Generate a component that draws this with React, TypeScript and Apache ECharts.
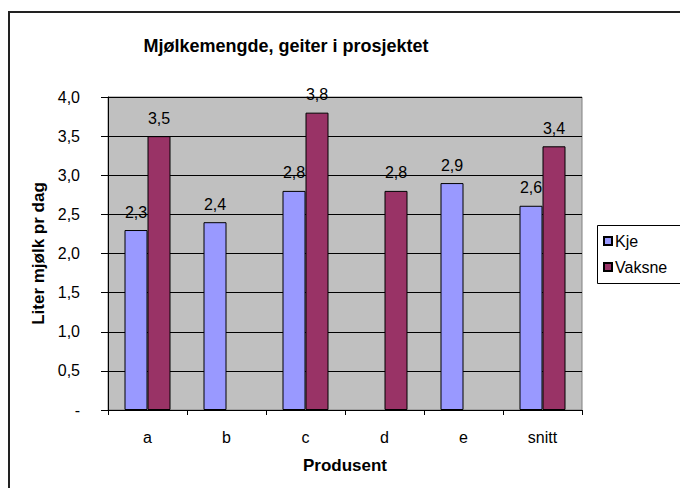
import React, { useEffect, useRef } from "react";
import * as echarts from "echarts";

const categories = ["a", "b", "c", "d", "e", "snitt"];
const kje: (number | null)[] = [2.3, 2.4, 2.8, null, 2.9, 2.61];
const vaksne: (number | null)[] = [3.5, null, 3.8, 2.8, null, 3.37];
const yTicks = { min: 0, max: 4, interval: 0.5 };

const FONT = "Liberation Sans, Arial, sans-serif";
const fmt = (v: number) => (v === 0 ? "-" : v.toFixed(1).replace(".", ","));

export default function App() {
  const ref = useRef<HTMLDivElement>(null);
  useEffect(() => {
    if (!ref.current) return;
    const chart = echarts.init(ref.current, undefined, { renderer: "svg" });
    const label = {
      show: true,
      position: "top" as const,
      distance: 10,
      color: "#000",
      fontSize: 16,
      fontFamily: FONT,
      formatter: (p: any) => (p.value == null ? "" : fmt(p.value)),
    };
    chart.setOption({
      animation: false,
      backgroundColor: "#fff",
      textStyle: { fontFamily: FONT, color: "#000" },
      title: {
        text: "Mjølkemengde, geiter i prosjektet",
        left: 281,
        top: 32,
        textAlign: "center",
        textStyle: { fontSize: 18, fontWeight: "bold", color: "#000", fontFamily: FONT },
      },
      graphic: [
        {
          type: "rect",
          z: -10,
          silent: true,
          shape: { x: 9, y: 12, width: 720, height: 520 },
          style: { fill: "none", stroke: "#222", lineWidth: 2 },
        },
        {
          type: "rect",
          z: 0,
          silent: true,
          shape: { x: 597.5, y: 225.5, width: 200, height: 58 },
          style: { fill: "#fff", stroke: "#000", lineWidth: 1 },
        },
      ],
      legend: {
        orient: "vertical",
        left: 597,
        top: 225,
        z: 10,
        borderWidth: 0,
        padding: [8, 6, 8, 6],
        itemWidth: 8,
        itemHeight: 8,
        itemGap: 10,
        icon: "rect",
        textStyle: { fontSize: 16, fontFamily: FONT, color: "#000", padding: [0, 0, 0, -2] },
        data: ["Kje", "Vaksne"],
      },
      grid: {
        left: 108,
        right: 98,
        top: 97,
        bottom: 78,
        show: true,
        backgroundColor: "#c0c0c0",
        borderColor: "#808080",
        borderWidth: 1,
      },
      xAxis: {
        type: "category",
        data: categories,
        name: "Produsent",
        nameLocation: "middle",
        nameGap: 47,
        nameTextStyle: { fontSize: 17, fontWeight: "bold", color: "#000", fontFamily: FONT },
        axisLine: { lineStyle: { color: "#000", width: 1 } },
        axisTick: { show: true, length: 5, lineStyle: { color: "#000" } },
        axisLabel: { margin: 19, fontSize: 16, color: "#000", fontFamily: FONT },
        splitLine: { show: false },
      },
      yAxis: {
        type: "value",
        min: yTicks.min,
        max: yTicks.max,
        interval: yTicks.interval,
        name: "Liter mjølk pr dag",
        nameLocation: "middle",
        nameGap: 60,
        nameTextStyle: { fontSize: 17, fontWeight: "bold", color: "#000", fontFamily: FONT },
        axisLine: { show: true, lineStyle: { color: "#000", width: 1 } },
        axisTick: { show: true, length: 7, lineStyle: { color: "#000" } },
        axisLabel: { margin: 28, fontSize: 16, color: "#000", fontFamily: FONT, formatter: fmt },
        splitLine: { show: true, lineStyle: { color: "#000", width: 1 } },
      },
      series: [
        {
          name: "Kje",
          type: "bar",
          data: kje,
          barWidth: 23,
          barGap: "0%",
          itemStyle: { color: "#9999ff", borderColor: "#000", borderWidth: 1 },
          label,
        },
        {
          name: "Vaksne",
          type: "bar",
          data: vaksne,
          barWidth: 23,
          barGap: "0%",
          itemStyle: { color: "#993366", borderColor: "#000", borderWidth: 1 },
          label,
        },
      ],
    });
    return () => chart.dispose();
  }, []);
  return (
    <div
      ref={ref}
      style={{ position: "fixed", left: 0, top: 0, width: 680, height: 488 }}
    />
  );
}
